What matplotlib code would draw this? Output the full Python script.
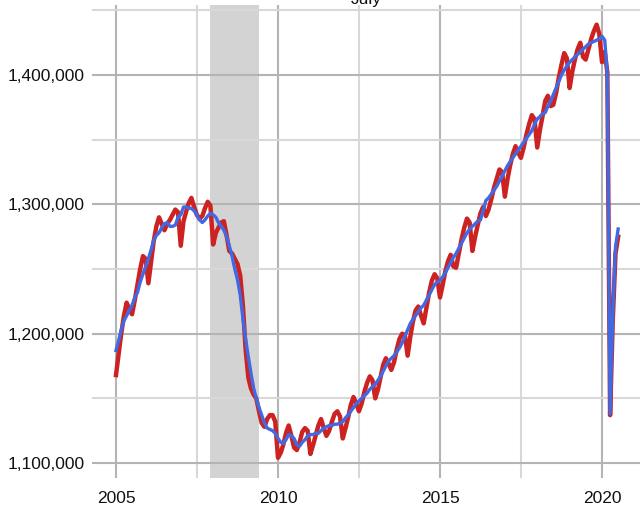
import numpy as np
import pandas as pd
import matplotlib
matplotlib.use('Agg')
import matplotlib.pyplot as plt
import matplotlib.dates as mdates
from matplotlib.ticker import FixedLocator, FuncFormatter

# ── Data (thousands, monthly Jan 2005 .. Jul 2020) ─────────────────────────
dates = pd.date_range("2005-01-01", "2020-07-01", freq="MS")

not_adjusted = [
    1168, 1185, 1200, 1214, 1224, 1219, 1215, 1226, 1238, 1250, 1260, 1258,  # 2005
    1239, 1256, 1271, 1283, 1290, 1285, 1280, 1285, 1288, 1292, 1296, 1294,  # 2006
    1268, 1287, 1294, 1301, 1305, 1298, 1292, 1289, 1291, 1297, 1302, 1299,  # 2007
    1269, 1278, 1282, 1286, 1287, 1276, 1264, 1262, 1258, 1254, 1245, 1222,  # 2008
    1188, 1166, 1158, 1153, 1150, 1140, 1131, 1128, 1134, 1137, 1137, 1132,  # 2009
    1104, 1108, 1114, 1123, 1129, 1121, 1112, 1110, 1116, 1124, 1127, 1125,  # 2010
    1107, 1114, 1121, 1129, 1134, 1127, 1121, 1125, 1132, 1138, 1140, 1136,  # 2011
    1119, 1127, 1135, 1145, 1151, 1146, 1140, 1146, 1155, 1162, 1167, 1164,  # 2012
    1150, 1157, 1166, 1176, 1181, 1177, 1172, 1178, 1188, 1196, 1200, 1199,  # 2013
    1183, 1198, 1209, 1218, 1221, 1214, 1208, 1220, 1232, 1241, 1246, 1243,  # 2014
    1228, 1238, 1248, 1256, 1261, 1252, 1251, 1262, 1273, 1282, 1289, 1286,  # 2015
    1264, 1275, 1284, 1293, 1298, 1291, 1296, 1304, 1313, 1320, 1327, 1325,  # 2016
    1306, 1320, 1330, 1339, 1345, 1340, 1336, 1344, 1354, 1362, 1369, 1366,  # 2017
    1344, 1358, 1368, 1380, 1384, 1376, 1377, 1386, 1398, 1408, 1417, 1413,  # 2018
    1390, 1403, 1412, 1420, 1425, 1414, 1412, 1420, 1428, 1434, 1439, 1432,  # 2019
    1410, 1418, 1402, 1137, 1210, 1262, 1275,                                # 2020
]

seasonally_adjusted = [
    1187, 1195, 1203, 1210, 1214, 1218, 1222, 1228, 1232, 1240, 1246, 1252,  # 2005
    1258, 1265, 1272, 1276, 1278, 1282, 1285, 1286, 1283, 1283, 1284, 1290,  # 2006
    1292, 1298, 1298, 1297, 1297, 1295, 1292, 1288, 1286, 1288, 1291, 1293,  # 2007
    1292, 1290, 1286, 1283, 1280, 1275, 1268, 1260, 1250, 1242, 1230, 1212,  # 2008
    1196, 1182, 1170, 1158, 1150, 1143, 1137, 1131, 1127, 1126, 1125, 1123,  # 2009
    1119, 1116, 1115, 1118, 1122, 1121, 1119, 1114, 1113, 1116, 1118, 1121,  # 2010
    1122, 1122, 1123, 1123, 1125, 1127, 1128, 1129, 1129, 1130, 1130, 1131,  # 2011
    1132, 1135, 1137, 1140, 1143, 1146, 1148, 1150, 1152, 1154, 1157, 1159,  # 2012
    1161, 1164, 1167, 1171, 1175, 1179, 1181, 1183, 1186, 1189, 1193, 1198,  # 2013
    1203, 1208, 1211, 1214, 1217, 1220, 1222, 1226, 1230, 1234, 1238, 1240,  # 2014
    1241, 1244, 1247, 1251, 1255, 1259, 1262, 1266, 1270, 1274, 1278, 1281,  # 2015
    1283, 1285, 1287, 1288, 1295, 1303, 1305, 1308, 1311, 1314, 1318, 1322,  # 2016
    1326, 1330, 1333, 1336, 1339, 1342, 1345, 1348, 1351, 1354, 1357, 1362,  # 2017
    1366, 1368, 1370, 1371, 1376, 1380, 1385, 1390, 1395, 1400, 1404, 1407,  # 2018
    1410, 1412, 1414, 1416, 1418, 1420, 1422, 1424, 1425, 1426, 1427, 1428,  # 2019
    1430, 1427, 1400, 1138, 1215, 1267, 1281,                                # 2020
]

recession = ("2007-12-01", "2009-06-01")
title = "July"

# ── Figure ────────────────────────────────────────────────────────────────
plt.rcParams['font.family'] = ['Liberation Sans', 'DejaVu Sans']

fig = plt.figure(figsize=(6.4, 5.14), dpi=100)
ax = fig.add_axes([92 / 640, 1 - 478 / 514, 1 - 92 / 640, (478 - 5) / 514])

y_red = np.array(not_adjusted) * 1000
y_blue = np.array(seasonally_adjusted) * 1000

ax.axvspan(pd.Timestamp(recession[0]), pd.Timestamp(recession[1]),
           color='#d3d3d3', lw=0, zorder=0.2)

ax.plot(dates, y_red, color='#cc2222', lw=3.2, solid_joinstyle='round', zorder=3)
ax.plot(dates, y_blue, color='#4169e1', lw=2.4, solid_joinstyle='round', zorder=4)

# axis limits
x2005 = mdates.date2num(pd.Timestamp("2005-01-01"))
per_year = 365.25
ax.set_xlim(x2005 - 0.74 * per_year, x2005 + 16.17 * per_year)
ax.set_ylim(1088400, 1454200)

# ticks / grid
major_years = [pd.Timestamp(f"{yr}-01-01") for yr in (2005, 2010, 2015, 2020)]
minor_years = [pd.Timestamp(f"{yr}-07-02") for yr in (2007, 2012, 2017)]
ax.xaxis.set_major_locator(FixedLocator(mdates.date2num(major_years)))
ax.xaxis.set_minor_locator(FixedLocator(mdates.date2num(minor_years)))
ax.xaxis.set_major_formatter(FuncFormatter(lambda v, p: mdates.num2date(v).strftime('%Y')))

ax.yaxis.set_major_locator(FixedLocator([1100000, 1200000, 1300000, 1400000]))
ax.yaxis.set_minor_locator(FixedLocator([1150000, 1250000, 1350000, 1450000]))
ax.yaxis.set_major_formatter(FuncFormatter(lambda v, p: f"{int(v):,}"))

ax.grid(True, which='major', color='#b4b4b4', lw=1.5, zorder=0.5)
ax.grid(True, which='minor', color='#d8d8d8', lw=1.5, zorder=0.5)
ax.set_axisbelow(True)

ax.tick_params(which='both', length=0, labelsize=12.5, colors='#111111')
ax.tick_params(axis='y', pad=5.5)
ax.tick_params(axis='x', pad=9.5)
for s in ax.spines.values():
    s.set_visible(False)

fig.text(0.572, 1 - 4 / 514, title, ha='center', va='baseline', fontsize=12.5, color='#111111')

plt.savefig("out.png", dpi=100)
plt.close()
